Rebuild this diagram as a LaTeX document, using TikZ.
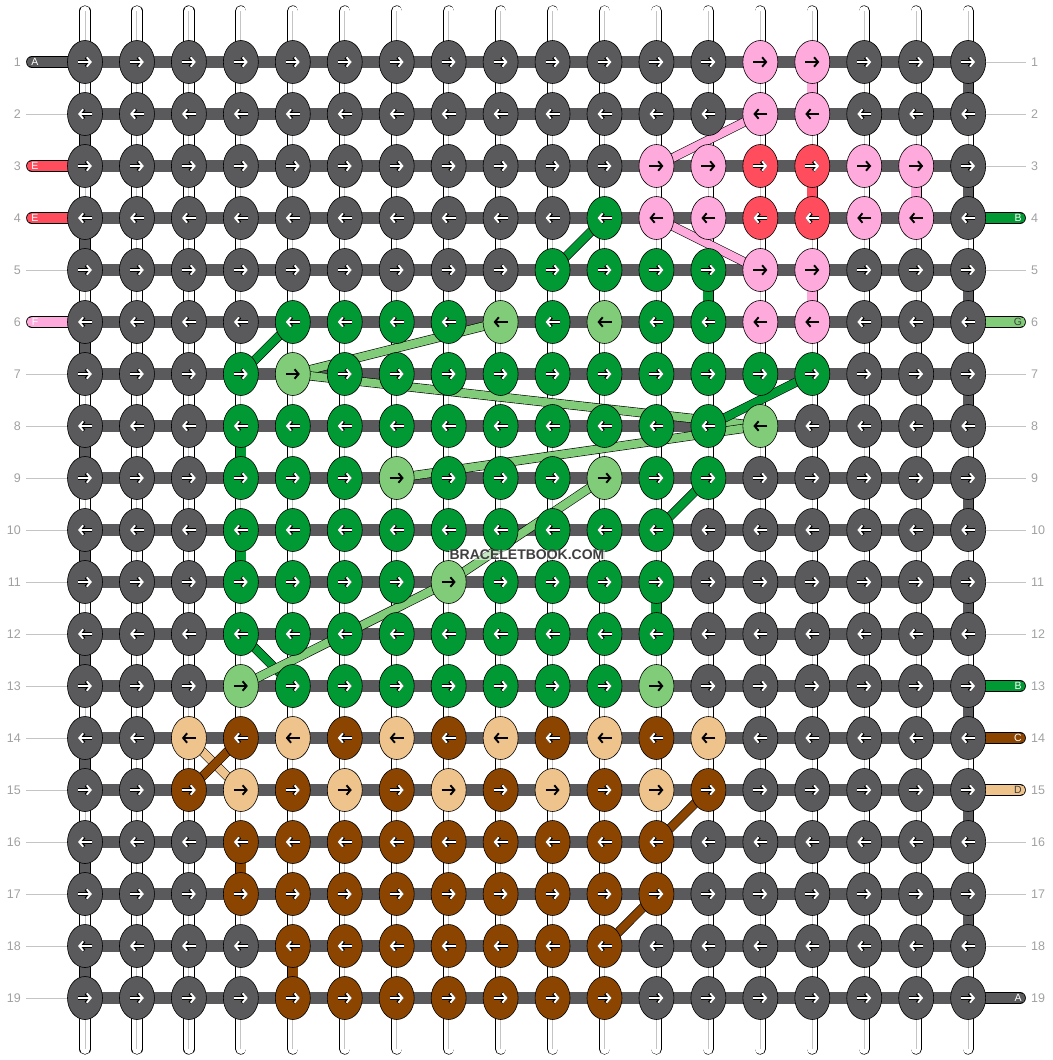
\documentclass[tikz,border=0pt]{standalone}
\usepackage{fontspec}
\setmainfont{Liberation Sans}
\usetikzlibrary{shapes.geometric, arrows.meta, calc, backgrounds}
\definecolor{kd}{HTML}{5A595C}
\definecolor{kp}{HTML}{FFAADD}
\definecolor{kr}{HTML}{FF4D5E}
\definecolor{kg}{HTML}{009933}
\definecolor{kl}{HTML}{80CC78}
\definecolor{kt}{HTML}{EEC38C}
\definecolor{kb}{HTML}{8B4500}
\colorlet{ad}{white}
\colorlet{ap}{black}
\colorlet{ar}{white}
\colorlet{ag}{white}
\colorlet{al}{black}
\colorlet{at}{black}
\colorlet{ab}{white}
\colorlet{rd}{black}
\colorlet{rp}{kp}
\colorlet{rr}{black}
\colorlet{rg}{black}
\colorlet{rl}{kl}
\colorlet{rt}{kt}
\colorlet{rb}{black}
\definecolor{numgray}{HTML}{A0A0A0}
\definecolor{tickgray}{HTML}{C4C4C4}
\definecolor{markgray}{HTML}{3F3F3F}

\begin{document}
\begin{tikzpicture}[x=1pt, y=-1pt,
        knot/.style={ellipse, draw=black, line width=.6pt, minimum width=35pt, minimum height=43pt, inner sep=0pt},
        arrowrim/.style={line width=3.2pt, draw=#1, -{Straight Barb[length=4pt, width=9.5pt]}},
        arrowcore/.style={line width=1.9pt, draw=#1, -{Straight Barb[length=4pt, width=9.5pt]}},
        basestr/.style={draw=black, line width=.6pt, double=white, double distance=10pt, line cap=round},
        basemid/.style={draw=tickgray, line width=1pt},
        turn/.style={draw=black, line width=.6pt, double=#1, double distance=10pt},
        rowstr/.style={draw=kd, line width=11.5pt},
        endstr/.style={draw=black, line width=.6pt, double=#1, double distance=10.5pt, line cap=round},
        thread/.style={draw=black, line width=.6pt, double=#1, double distance=8pt, line join=round},
        tick/.style={draw=tickgray, line width=.8pt},
        rownum/.style={font=\fontsize{12.5}{13}\selectfont, text=numgray, inner sep=0pt},
        endlbl/.style={font=\fontsize{10.5}{11}\selectfont, inner sep=0pt}]

    \useasboundingbox (0,0) rectangle (1052,1060);

    \foreach \rowcols [count=\r] in {
        {d,d,d,d,d,d,d,d,d,d,d,d,d,p,p,d,d,d},
        {d,d,d,d,d,d,d,d,d,d,d,d,d,p,p,d,d,d},
        {d,d,d,d,d,d,d,d,d,d,d,p,p,r,r,p,p,d},
        {d,d,d,d,d,d,d,d,d,d,g,p,p,r,r,p,p,d},
        {d,d,d,d,d,d,d,d,d,g,g,g,g,p,p,d,d,d},
        {d,d,d,d,g,g,g,g,l,g,l,g,g,p,p,d,d,d},
        {d,d,d,g,l,g,g,g,g,g,g,g,g,g,g,d,d,d},
        {d,d,d,g,g,g,g,g,g,g,g,g,g,l,d,d,d,d},
        {d,d,d,g,g,g,l,g,g,g,l,g,g,d,d,d,d,d},
        {d,d,d,g,g,g,g,g,g,g,g,g,d,d,d,d,d,d},
        {d,d,d,g,g,g,g,l,g,g,g,g,d,d,d,d,d,d},
        {d,d,d,g,g,g,g,g,g,g,g,g,d,d,d,d,d,d},
        {d,d,d,l,g,g,g,g,g,g,g,l,d,d,d,d,d,d},
        {d,d,t,b,t,b,t,b,t,b,t,b,t,d,d,d,d,d},
        {d,d,b,t,b,t,b,t,b,t,b,t,b,d,d,d,d,d},
        {d,d,d,b,b,b,b,b,b,b,b,b,d,d,d,d,d,d},
        {d,d,d,b,b,b,b,b,b,b,b,b,d,d,d,d,d,d},
        {d,d,d,d,b,b,b,b,b,b,b,d,d,d,d,d,d,d},
        {d,d,d,d,b,b,b,b,b,b,b,d,d,d,d,d,d,d}}{
        \pgfmathtruncatemacro\dir{1-2*mod(\r+1,2)}
        \foreach \kc [count=\c] in \rowcols {
            \node[knot, fill=k\kc] (k-\r-\c) at ({85+(\c-1)*51.95},{62+(\r-1)*52}) {};
            \draw[arrowrim=r\kc] ($(k-\r-\c)+(-7*\dir,0)$) -- ($(k-\r-\c)+(7*\dir,0)$);
            \draw[arrowcore=a\kc] ($(k-\r-\c)+(-7*\dir,0)$) -- ($(k-\r-\c)+(7*\dir,0)$);
        }
        \coordinate (le-\r) at (32,{62+(\r-1)*52});
        \coordinate (re-\r) at (1020,{62+(\r-1)*52});
        \coordinate (lt-\r) at (26,{62+(\r-1)*52});
        \coordinate (rt-\r) at (1026,{62+(\r-1)*52});
        \node[rownum, anchor=east] (nl-\r) at (21,{62+(\r-1)*52}) {\r};
        \node[rownum, anchor=west] (nr-\r) at (1031,{62+(\r-1)*52}) {\r};
    }
    \foreach \c in {1,...,18} {
        \coordinate (top-\c) at ({85+(\c-1)*51.95},11);
        \coordinate (bot-\c) at ({85+(\c-1)*51.95},1049);
    }

    \begin{pgfonlayer}{background}
        \foreach \c in {1,...,18} {
            \draw[basestr] (top-\c) -- (bot-\c);
            \draw[basemid] (top-\c) -- (bot-\c);
        }
        \foreach \r [evaluate=\r as \rn using {int(\r+1)}] in {2,4,...,18}
            \draw[turn=kd] (k-\r-1.center) -- (k-\rn-1.center);
        \foreach \r [evaluate=\r as \rn using {int(\r+1)}] in {1,3,...,17}
            \draw[turn=kd] (k-\r-18.center) -- (k-\rn-18.center);
        \foreach \c/\r/\col [evaluate=\r as \rn using {int(\r+1)}] in {15/1/kp, 15/3/kr, 17/3/kp, 13/5/kg, 15/5/kp, 4/8/kg, 4/10/kg, 12/11/kg, 4/16/kb, 5/18/kb}
            \draw[turn=\col] (k-\r-\c.center) -- (k-\rn-\c.center);

        \foreach \r in {1,...,19}
            \draw[rowstr] (k-\r-1.center) -- (k-\r-18.center);

        \foreach \r/\col/\tc/\lbl in {1/kd/white/A, 3/kr/white/E, 4/kr/white/E, 6/kp/white/F} {
            \draw[endstr=\col] (le-\r) -- (k-\r-1.center);
            \node[endlbl, text=\tc] (el-\r) at ([xshift=3pt]le-\r) {\lbl};
        }
        \foreach \r/\col/\tc/\lbl in {4/kg/white/B, 6/kl/markgray/G, 13/kg/white/B, 14/kb/white/C, 15/kt/markgray/D, 19/kd/white/A} {
            \draw[endstr=\col] (k-\r-18.center) -- (re-\r);
            \node[endlbl, text=\tc] (er-\r) at ([xshift=-2pt]re-\r) {\lbl};
        }
        \foreach \r in {2,5,7,8,9,10,11,12,13,14,15,16,17,18,19}
            \draw[tick] (lt-\r) -- (k-\r-1);
        \foreach \r in {1,2,3,5,7,8,9,10,11,12,16,17,18}
            \draw[tick] (k-\r-18) -- (rt-\r);

        \draw[thread=kp] (k-2-14.center) -- (k-3-12.center);
        \draw[thread=kp] (k-4-12.center) -- (k-5-14.center);
        \draw[thread=kg] (k-4-11.center) -- (k-5-10.center);
        \draw[thread=kg] (k-6-5.center) -- (k-7-4.center);
        \draw[thread=kg] (k-12-4.center) -- (k-13-5.center);
        \draw[thread=kl] (k-7-5.center) -- (k-6-9.center);
        \draw[thread=kl] (k-7-5.center) -- (k-8-14.center);
        \draw[thread=kl] (k-9-7.center) -- (k-8-14.center);
        \draw[thread=kl] (k-9-11.center) -- (k-11-8.center) -- (k-13-4.center);
        \draw[thread=kg] (k-7-15.center) -- (k-8-13.center);
        \draw[thread=kg] (k-9-13.center) -- (k-10-12.center);
        \draw[thread=kt] (k-14-3.center) -- (k-15-4.center);
        \draw[thread=kb] (k-15-3.center) -- (k-14-4.center);
        \draw[thread=kb] (k-15-13.center) -- (k-16-12.center);
        \draw[thread=kb] (k-17-12.center) -- (k-18-11.center);
    \end{pgfonlayer}

    \node[font=\bfseries\fontsize{14}{15}\selectfont, text=markgray, fill=white, fill opacity=.55, text opacity=1, inner sep=.5pt] (mark) at (527,555) {BRACELETBOOK.COM};
\end{tikzpicture}
\end{document}
